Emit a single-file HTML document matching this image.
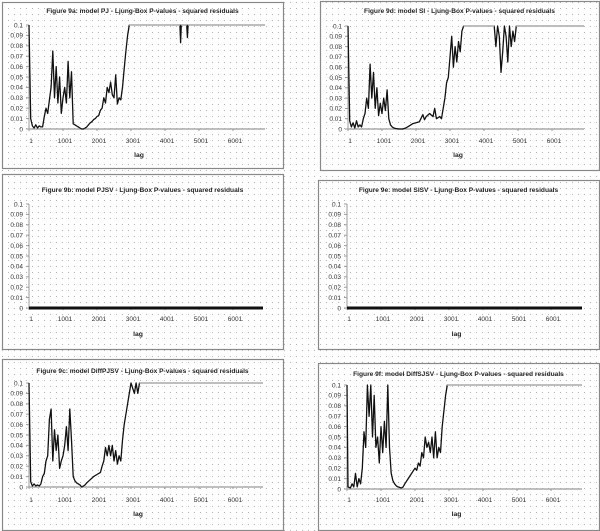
<!DOCTYPE html>
<html><head><meta charset="utf-8">
<style>
html,body{margin:0;padding:0;background:#fff;}
svg{display:block;font-family:"Liberation Sans",sans-serif;}
</style></head>
<body>
<svg id="chart" width="600" height="531" viewBox="0 0 600 531" xmlns="http://www.w3.org/2000/svg">
<defs>
<pattern id="dots" width="6" height="6" patternUnits="userSpaceOnUse">
<rect x="2" y="2" width="1" height="1" fill="#b4b4b4"/>
</pattern>
</defs>
<rect width="600" height="531" fill="#fff"/>
<rect width="600" height="531" fill="url(#dots)"/>
<g id="root"></g>
</svg>
<script>
const xTicks = [1, 1001, 2001, 3001, 4001, 5001, 6001];
const yTicks = [0, 0.01, 0.02, 0.03, 0.04, 0.05, 0.06, 0.07, 0.08, 0.09, 0.1];
const yTickLabels = ["0","0.01","0.02","0.03","0.04","0.05","0.06","0.07","0.08","0.09","0.1"];

const lagsA = [1,50,100,150,200,250,300,350,400,450,500,550,600,650,700,750,800,850,900,950,1000,1050,1100,1150,1200,1250,1300,1350,1400,1450,1500,1550,1600,1650,1700,1750,1800,1850,1900,1950,2000,2050,2100,2150,2200,2250,2300,2350,2400,2450,2500,2550,2600,2650,2700,2750,2800,2850,2900,2950,4440,4460,4480,4640,4660,4680,7000];
const valsA = [0.1,0.01,0.003,0.001,0.004,0.001,0.003,0.002,0.002,0.012,0.02,0.015,0.028,0.04,0.075,0.03,0.06,0.025,0.05,0.015,0.03,0.04,0.025,0.065,0.03,0.055,0.005,0.004,0.003,0.002,0.001,0,0,0.001,0.002,0.004,0.006,0.007,0.009,0.01,0.012,0.013,0.018,0.02,0.03,0.025,0.04,0.035,0.045,0.033,0.03,0.052,0.024,0.03,0.028,0.04,0.058,0.075,0.09,0.1,0.1,0.083,0.1,0.1,0.088,0.1,0.1];

const lagsB = [1,50,100,150,200,250,300,350,400,450,500,550,600,650,700,750,800,850,900,950,1000,1050,1100,1150,1200,1250,1300,1350,1400,1500,1600,1700,1800,1900,2000,2100,2200,2250,2300,2400,2500,2550,2600,2700,2750,2800,2850,2900,2950,3000,3050,3100,3150,3200,3250,3300,3350,3400,4300,4350,4400,4450,4500,4550,4600,4650,4700,4750,4800,4850,4900,4950,7000];
const valsB = [0.1,0.008,0.002,0.006,0.001,0.008,0.002,0.004,0.002,0.01,0.015,0.03,0.02,0.063,0.03,0.055,0.02,0.04,0.013,0.025,0.015,0.03,0.018,0.038,0.01,0.004,0.002,0.001,0.0005,0,0,0.001,0.003,0.005,0.006,0.007,0.014,0.009,0.012,0.015,0.012,0.02,0.01,0.012,0.01,0.02,0.03,0.045,0.05,0.07,0.09,0.06,0.08,0.065,0.085,0.075,0.095,0.1,0.1,0.08,0.1,0.09,0.055,0.075,0.1,0.09,0.065,0.1,0.08,0.095,0.085,0.1,0.1];

const lagsC = [1,7000];
const valsC = [0,0];
const lagsD = [1,7000];
const valsD = [0,0];

const lagsE = [1,50,100,150,200,250,300,350,400,450,500,550,600,650,700,750,800,850,900,950,1000,1050,1100,1150,1200,1250,1300,1350,1400,1450,1500,1550,1600,1650,1700,1800,1900,2000,2100,2150,2200,2250,2300,2350,2400,2450,2500,2550,2600,2650,2700,2750,2800,2850,2900,2950,3000,3100,3150,3200,3250,7000];
const valsE = [0.1,0.005,0.001,0.003,0.001,0.002,0.001,0.003,0.01,0.013,0.025,0.03,0.065,0.075,0.025,0.055,0.035,0.05,0.018,0.025,0.03,0.04,0.058,0.035,0.075,0.045,0.01,0.006,0.004,0.003,0.002,0,0.001,0.002,0.004,0.007,0.01,0.012,0.014,0.02,0.025,0.038,0.03,0.04,0.03,0.04,0.025,0.035,0.022,0.03,0.025,0.045,0.06,0.07,0.08,0.09,0.1,0.09,0.1,0.09,0.1,0.1];

const lagsF = [1,30,100,150,200,250,300,350,400,450,500,550,600,650,700,750,800,850,900,950,1000,1050,1100,1150,1200,1250,1300,1350,1400,1450,1500,1600,1650,1700,1800,1900,2000,2050,2100,2150,2200,2250,2300,2350,2400,2450,2500,2550,2600,2650,2700,2750,2800,2850,2900,2950,7000];
const valsF = [0.1,0.002,0.001,0.005,0.002,0.015,0.002,0.01,0.005,0.02,0.055,0.04,0.1,0.07,0.1,0.05,0.09,0.04,0.05,0.025,0.06,0.035,0.065,0.04,0.1,0.04,0.015,0.008,0.005,0.003,0.002,0.001,0.002,0.005,0.01,0.015,0.02,0.018,0.025,0.022,0.035,0.03,0.05,0.04,0.045,0.035,0.05,0.03,0.055,0.03,0.04,0.035,0.06,0.075,0.09,0.1,0.1];

const NS = "http://www.w3.org/2000/svg";
const root = document.getElementById('root');
function mk(tag, attrs, parent){const e=document.createElementNS(NS,tag);for(const k in attrs)e.setAttribute(k,attrs[k]);(parent||root).appendChild(e);return e;}

const panels = [
 {name:'panel-9a', title:'Figure 9a: model PJ - Ljung-Box P-values - squared residuals', box:[2,2,281,166], ax:29, axEnd:265, yTop:25, y0:129, lblY:143, lagY:157, titleY:13, lags:lagsA, vals:valsA, flat:false},
 {name:'panel-9d', title:'Figure 9d: model SI - Ljung-Box P-values - squared residuals', box:[320,1,279,169], ax:348, axEnd:584, yTop:26, y0:129, lblY:143, lagY:157, titleY:13, lags:lagsB, vals:valsB, flat:false},
 {name:'panel-9b', title:'Figure 9b: model PJSV - Ljung-Box P-values - squared residuals', box:[2,174,281,175], ax:29, axEnd:263, yTop:204, y0:308, lblY:321, lagY:336, titleY:192, lags:lagsC, vals:valsC, flat:true},
 {name:'panel-9e', title:'Figure 9e: model SISV - Ljung-Box P-values - squared residuals', box:[318,180,281,169], ax:347, axEnd:582, yTop:204, y0:308, lblY:321, lagY:336, titleY:192, lags:lagsD, vals:valsD, flat:true},
 {name:'panel-9c', title:'Figure 9c: model DiffPJSV - Ljung-Box P-values - squared residuals', box:[2,359,281,171], ax:29, axEnd:263, yTop:383, y0:487, lblY:502, lagY:516, titleY:373, lags:lagsE, vals:valsE, flat:false},
 {name:'panel-9f', title:'Figure 9f: model DiffSJSV - Ljung-Box P-values - squared residuals', box:[318,363,281,167], ax:347, axEnd:582, yTop:385, y0:489, lblY:502, lagY:516, titleY:376, lags:lagsF, vals:valsF, flat:false}
];

panels.forEach(p=>{
  const g = mk('g',{});
  
  
  const b = mk('rect',{x:p.box[0]+0.5,y:p.box[1]+0.5,width:p.box[2],height:p.box[3],fill:'none',stroke:'#888','stroke-width':1.2},g);
  
  
  const sx = lag => p.ax + (lag-1)*0.034;
  const sy = v => p.y0 - (v/0.1)*(p.y0-p.yTop);
  const t = mk('text',{x:(p.box[0]+p.box[0]+p.box[2])/2,y:p.titleY,'text-anchor':'middle','font-size':'6.6',fill:'#222','font-weight':'bold'},g);
  t.textContent = p.title;
  
  
  const ya = mk('line',{x1:p.ax,y1:p.yTop,x2:p.ax,y2:p.y0,stroke:'#999','stroke-width':1},g);
  
  
  yTicks.forEach((v,i)=>{
    mk('line',{x1:p.ax-3,y1:sy(v),x2:p.ax,y2:sy(v),stroke:'#999','stroke-width':1},g);
    const l = mk('text',{x:p.ax-6,y:sy(v)+2.3,'text-anchor':'end','font-size':'6.5',fill:'#333'},g);
    l.textContent = yTickLabels[i];
    
    
  });
  const xa = mk('line',{x1:p.ax,y1:p.y0,x2:p.axEnd,y2:p.y0,stroke:'#aaa','stroke-width':1.5},g);
  
  
  xTicks.forEach(v=>{
    mk('line',{x1:sx(v),y1:p.y0,x2:sx(v),y2:p.y0+2,stroke:'#999','stroke-width':1},g);
    const l = mk('text',{x:sx(v)+2,y:p.lblY,'text-anchor':'middle','font-size':'6.5',fill:'#333'},g);
    l.textContent = String(v);
    
    
  });
  const lt = mk('text',{x:(p.ax+p.axEnd)/2-8,y:p.lagY,'text-anchor':'middle','font-size':'6.8',fill:'#222','font-weight':'bold'},g);
  lt.textContent = 'lag';
  
  
  const pts = p.lags.map((lag,i)=>[Math.min(sx(lag),p.axEnd), sy(p.vals[i])]);
  const path = mk('polyline',{points:pts.map(q=>q[0].toFixed(1)+','+q[1].toFixed(1)).join(' '),fill:'none',stroke:'#111','stroke-width':p.flat?3:1.3,'stroke-linejoin':'round'},g);
  
  
  for(let i=0;i<p.vals.length-1;i++){
    if(p.vals[i]>=0.1 && p.vals[i+1]>=0.1){
      const s = mk('line',{x1:pts[i][0],y1:pts[i][1],x2:pts[i+1][0],y2:pts[i+1][1],stroke:'#fff','stroke-width':1.6},g);
      
      
      const s2 = mk('line',{x1:pts[i][0],y1:pts[i][1],x2:pts[i+1][0],y2:pts[i+1][1],stroke:'#9a9a9a','stroke-width':1.1},g);
      
      
    }
  }
});
</script>
</body></html>
